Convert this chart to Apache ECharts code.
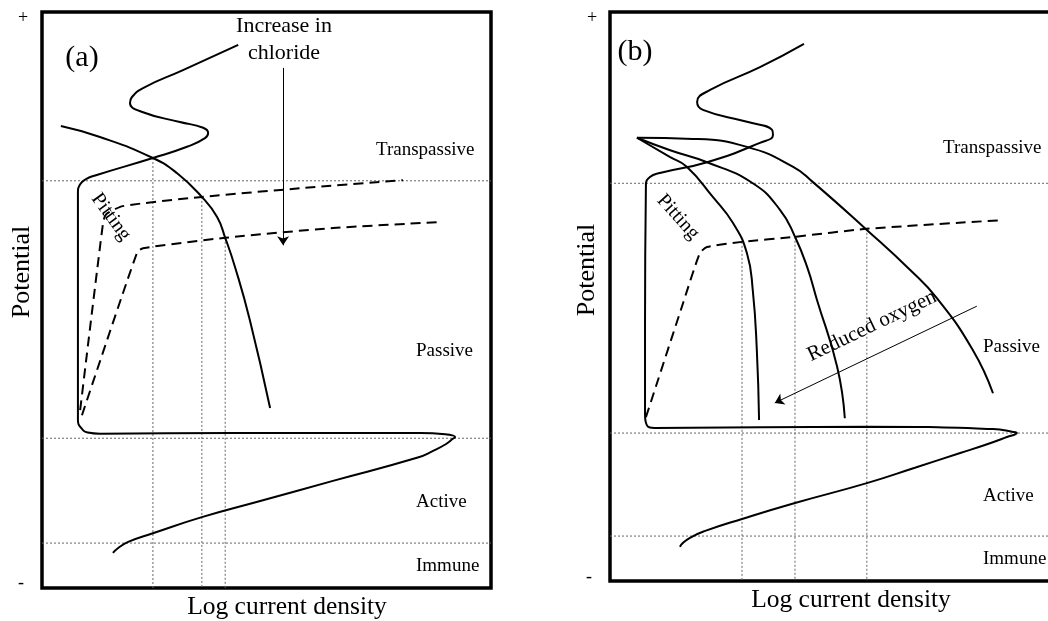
<!DOCTYPE html>
<html>
<head>
<meta charset="utf-8">
<script src="https://cdn.jsdelivr.net/npm/echarts@6/dist/echarts.min.js"></script>
<style>
  html, body { margin: 0; padding: 0; background: #fff; }
  #chart { width: 1048px; height: 621px; }
</style>
</head>
<body>
<div id="chart"></div>
<script>
// Schematic polarisation curves: potential (0..100, arbitrary) vs log current density (0..100, arbitrary)

// ---------- Panel (a): effect of chloride ----------
const aAnodic = [
  [15.8, 6.1], [16.9, 6.9], [19.2, 8.0], [24.7, 9.5], [35.6, 12.3], [48.6, 15.1], [64.8, 18.6],
  [83.5, 22.6], [87.1, 23.8], [90.0, 25.0], [91.5, 25.9], [92.0, 26.2], [89.8, 26.7], [84.2, 26.9],
  [42.5, 26.9], [12.9, 26.8], [10.2, 27.0], [8.7, 27.8], [8.0, 29.2], [8.0, 45.0],
  [8.0, 68.6], [8.5, 70.1], [9.8, 71.0], [12.2, 71.7], [24.7, 74.65], [32.3, 76.6],
  [36.3, 78.1], [37.0, 79.0], [35.9, 79.9], [30.7, 80.9], [22.5, 82.6], [19.6, 84.2],
  [20.0, 85.2], [22.5, 86.8], [31.4, 89.9], [43.7, 94.3]
];
const aCathodic = [
  [4.2, 80.2], [12.9, 78.3], [24.7, 74.65], [30.1, 72.0], [35.6, 67.9], [39.0, 64.4],
  [40.8, 60.8], [43.0, 55.7], [46.3, 46.5], [50.8, 31.25]
];
const aPitLow = [[8.5, 30.9], [13.6, 63.4], [14.3, 64.9], [18.0, 66.3], [35.6, 67.9], [57.5, 69.4], [80.4, 70.8]];
const aPitHigh = [[8.9, 30.0], [21.2, 58.3], [22.5, 59.0], [40.8, 60.8], [64.8, 62.5], [88.0, 63.5]];
const aCrossings = [[24.7, 74.65], [35.6, 67.9], [40.8, 60.8]];
const aBounds = [70.7, 26.0, 7.8];
const aArrow = [[53.7, 90.3], [53.7, 59.5]];

// ---------- Panel (b): effect of oxygen ----------
const bAnodic = [
  [15.6, 6.0], [16.0, 6.5], [17.8, 7.6], [21.2, 8.8], [29.4, 10.9], [41.2, 13.7], [57.2, 17.2],
  [67.9, 19.9], [78.0, 22.5], [83.5, 23.9], [88.4, 25.3], [90.6, 26.0], [89.8, 26.2], [85.3, 26.7],
  [57.2, 27.1], [10.0, 26.9], [8.2, 27.4], [7.8, 29.2], [7.8, 45.0], [8.0, 69.6], [8.9, 71.0],
  [11.1, 71.7], [21.6, 73.6], [33.4, 77.0], [36.3, 78.4], [36.1, 79.3], [30.5, 80.7],
  [20.7, 82.8], [19.4, 84.2], [22.3, 86.3], [33.4, 90.3], [43.2, 94.4]
];
const bCathodic1 = [[6.0, 77.9], [13.4, 74.5], [17.1, 72.8], [22.9, 67.5], [27.4, 62.9], [30.5, 57.6], [31.8, 51.1], [32.7, 40.6], [33.2, 28.3]];
const bCathodic2 = [[6.0, 77.9], [13.4, 75.7], [21.6, 73.6], [31.8, 69.9], [37.9, 65.2], [41.2, 60.5], [43.9, 55.2], [46.1, 49.4], [50.6, 37.6], [52.3, 28.6]];
const bCathodic3 = [[6.0, 77.9], [18.5, 77.7], [30.5, 76.3], [40.8, 72.8], [45.2, 70.1], [57.2, 61.7], [66.8, 54.7], [72.8, 49.7], [80.8, 40.6], [85.3, 33.0]];
const bPit = [[8.0, 28.8], [16.3, 48.9], [20.0, 57.6], [21.6, 58.7], [29.4, 59.6], [41.2, 60.5], [57.2, 61.9], [86.9, 63.4]];
const bCrossings = [[29.4, 59.6], [41.2, 60.5], [57.2, 61.9]];
const bBounds = [69.9, 26.0, 7.9];
const bArrow = [[81.7, 48.3], [36.7, 31.3]];

const SERIF = "'Liberation Serif', 'Times New Roman', serif";
const INK = '#000';

function curve(data, gi, dashed, smooth) {
  return {
    type: 'line', xAxisIndex: gi, yAxisIndex: gi, data: data,
    showSymbol: false, smooth: smooth == null ? 0.5 : smooth, silent: true, z: 3,
    lineStyle: { color: INK, width: 2, type: dashed ? [10, 6] : 'solid' }
  };
}
function guide(data, gi) {
  return {
    type: 'line', xAxisIndex: gi, yAxisIndex: gi, data: data,
    showSymbol: false, silent: true, z: 1,
    lineStyle: { color: '#666', width: 1, type: [2, 2] }
  };
}
function arrow(pts, gi) {
  return {
    type: 'lines', coordinateSystem: 'cartesian2d', xAxisIndex: gi, yAxisIndex: gi,
    symbol: ['none', 'arrow'], symbolSize: 9, silent: true, z: 4,
    lineStyle: { color: INK, width: 1, opacity: 1 },
    data: [{ coords: pts }]
  };
}

const series = [];
[[aCrossings, aBounds, 0], [bCrossings, bBounds, 1]].forEach(([cross, bounds, gi]) => {
  cross.forEach(p => series.push(guide([[p[0], p[1]], [p[0], 0]], gi)));
  bounds.forEach(y => series.push(guide([[0, y], [100, y]], gi)));
});
series.push(curve(aAnodic, 0), curve(aCathodic, 0), curve(aPitLow, 0, true, 0.2), curve(aPitHigh, 0, true, 0.2), arrow(aArrow, 0));
series.push(curve(bAnodic, 1), curve(bCathodic1, 1), curve(bCathodic2, 1), curve(bCathodic3, 1), curve(bPit, 1, true, 0.2), arrow(bArrow, 1));

const hiddenAxis = (gi) => ({
  type: 'value', gridIndex: gi, min: 0, max: 100,
  axisLine: { show: false }, axisTick: { show: false }, axisLabel: { show: false }, splitLine: { show: false }
});

function txt(x, y, text, size, opts) {
  opts = opts || {};
  return {
    type: 'text', x: x, y: y, rotation: opts.rot || 0, z: 10,
    style: {
      text: text, fill: INK, font: size + 'px ' + SERIF,
      align: opts.align || 'center', verticalAlign: 'middle'
    }
  };
}
const DEG = Math.PI / 180;

const chart = echarts.init(document.getElementById('chart'), null, { renderer: 'canvas' });
chart.setOption({
  animation: false,
  backgroundColor: '#fff',
  grid: [
    { left: 42, top: 12, width: 449, height: 576, show: true, borderColor: INK, borderWidth: 3.5, outerBoundsMode: 'none', containLabel: false },
    { left: 610, top: 12, width: 449, height: 569, show: true, borderColor: INK, borderWidth: 3.5, outerBoundsMode: 'none', containLabel: false }
  ],
  xAxis: [hiddenAxis(0), hiddenAxis(1)],
  yAxis: [hiddenAxis(0), hiddenAxis(1)],
  series: series,
  graphic: [
    // panel (a)
    txt(23, 18, '+', 18), txt(21, 583, '-', 18),
    txt(22, 272, 'Potential', 26, { rot: 90 * DEG }),
    txt(287, 607, 'Log current density', 25.5),
    txt(82, 58, '(a)', 30),
    txt(284, 26, 'Increase in', 22), txt(284, 53, 'chloride', 22),
    txt(376, 150, 'Transpassive', 19, { align: 'left' }),
    txt(416, 351, 'Passive', 19, { align: 'left' }),
    txt(416, 502, 'Active', 19, { align: 'left' }),
    txt(416, 566, 'Immune', 19, { align: 'left' }),
    txt(111, 217, 'Pitting', 20, { rot: -54 * DEG }),
    // panel (b)
    txt(592, 18, '+', 18), txt(589, 577, '-', 18),
    txt(587, 270, 'Potential', 26, { rot: 90 * DEG }),
    txt(851, 600, 'Log current density', 25.5),
    txt(635, 52, '(b)', 30),
    txt(943, 148, 'Transpassive', 19, { align: 'left' }),
    txt(983, 347, 'Passive', 19, { align: 'left' }),
    txt(983, 496, 'Active', 19, { align: 'left' }),
    txt(983, 559, 'Immune', 19, { align: 'left' }),
    txt(678, 217, 'Pitting', 20, { rot: -48 * DEG }),
    txt(872, 326, 'Reduced oxygen', 21, { rot: 25.5 * DEG })
  ]
});
</script>
</body>
</html>
